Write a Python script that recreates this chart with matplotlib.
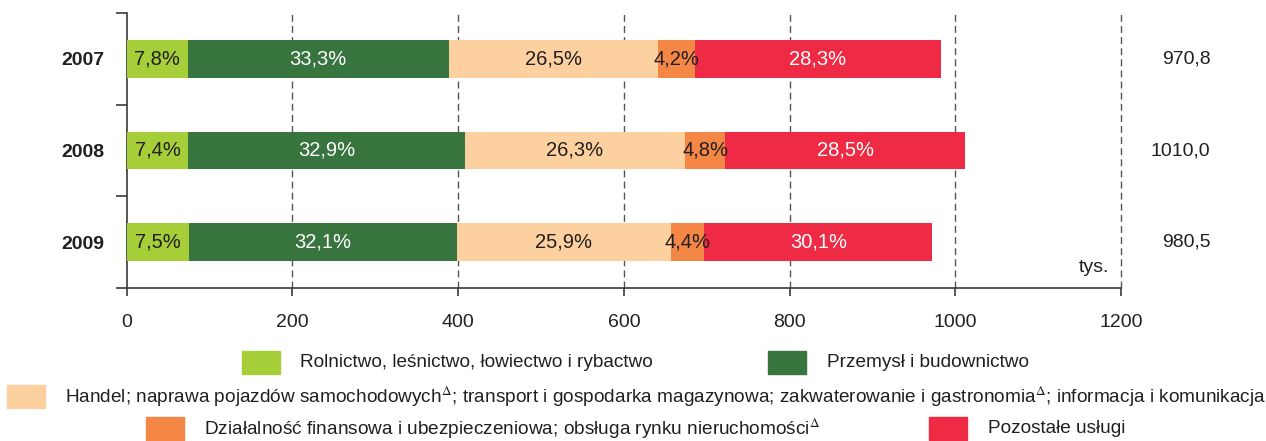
import matplotlib
matplotlib.use("Agg")
import matplotlib.pyplot as plt
from matplotlib.patches import Rectangle
import numpy as np

plt.rcParams["font.family"] = ["Liberation Sans", "DejaVu Sans"]
plt.rcParams["mathtext.fontset"] = "stix"

years = ["2007", "2008", "2009"]
totals = [970.8, 1010.0, 980.5]
sectors = [
    "Rolnictwo, leśnictwo, łowiectwo i rybactwo",
    "Przemysł i budownictwo",
    "Handel; naprawa pojazdów samochodowych$^{\\Delta}$; transport i gospodarka magazynowa; "
    "zakwaterowanie i gastronomia$^{\\Delta}$; informacja i komunikacja",
    "Działalność finansowa i ubezpieczeniowa; obsługa rynku nieruchomości$^{\\Delta}$",
    "Pozostałe usługi",
]
# percentage labels printed on the bars
shares = [
    [7.8, 7.4, 7.5],
    [33.3, 32.9, 32.1],
    [26.5, 26.3, 25.9],
    [4.2, 4.8, 4.4],
    [28.3, 28.5, 30.1],
]
# segment lengths (tys.) as drawn in the picture, rows 2007 / 2008 / 2009
segments = [
    [73.5, 74.5, 75.5],
    [315.0, 333.5, 323.0],
    [253.0, 266.0, 258.5],
    [44.5, 48.5, 40.0],
    [296.5, 289.0, 275.5],
]
colors = ["#a6ce39", "#37743e", "#fdd09f", "#f48646", "#ee2a45"]
label_colors = ["#231f20", "white", "#231f20", "#231f20", "white"]

AX_COLOR = "#3a3a3a"
TXT = "#231f20"
FS = 14

fig = plt.figure(figsize=(12.66, 4.41), dpi=100)
ax = fig.add_axes([126.7 / 1266, 1 - 288 / 441, (1121 - 126.7) / 1266, 275 / 441])

y = np.arange(len(years))
left = np.zeros(len(years))
for seg, vals, col, lcol in zip(segments, shares, colors, label_colors):
    widths = np.array(seg)
    ax.barh(y, widths, left=left, height=0.41, color=col, edgecolor="none", zorder=3)
    for yi, (l, w, v) in enumerate(zip(left, widths, vals)):
        ax.text(l + w / 2, yi, f"{v:.1f}%".replace(".", ","), ha="center", va="center",
                color=lcol, fontsize=14.5, zorder=4)
    left = left + widths

for yi, t in enumerate(totals):
    ax.text(1.09, yi, f"{t:.1f}".replace(".", ","), transform=ax.get_yaxis_transform(),
            ha="right", va="center", fontsize=FS, color=TXT)
ax.text(1167, 2.28, "tys.", ha="center", va="center", fontsize=FS, color=TXT)

ax.set_xlim(0, 1200)
ax.set_ylim(2.5, -0.5)
ax.set_xticks(np.arange(0, 1201, 200))
ax.set_yticks(y)
ax.set_yticklabels(years, fontweight="bold", fontsize=FS, color=TXT)
ax.set_yticks([-0.5, 0.5, 1.5, 2.5], minor=True)
ax.tick_params(axis="y", which="major", length=0, pad=16)
ax.tick_params(axis="y", which="minor", length=8, width=1.2, color=AX_COLOR)
ax.tick_params(axis="x", length=6, width=1.2, color=AX_COLOR, pad=13, labelsize=FS,
               labelcolor=TXT)

for x in np.arange(200, 1201, 200):
    ax.axvline(x, color="#555555", linestyle=(0, (5, 3)), linewidth=1.0, zorder=1,
               clip_on=False)

for s in ["top", "right"]:
    ax.spines[s].set_visible(False)
for s in ["left", "bottom"]:
    ax.spines[s].set_color(AX_COLOR)
    ax.spines[s].set_linewidth(1.2)

# legend drawn by hand to match the centred rows: (patch x, patch top y, text x)
legend_pos = [
    (242, 351, 300),
    (768, 351, 827),
    (7, 385, 65),
    (146, 417, 204),
    (929, 417, 988),
]
for (px, py, tx), name, col in zip(legend_pos, sectors, colors):
    fig.add_artist(Rectangle((px / 1266, 1 - (py + 23) / 441), 38 / 1266, 23 / 441,
                             transform=fig.transFigure, color=col))
    fig.text(tx / 1266, 1 - (py + 11.5) / 441, name, ha="left", va="center",
             fontsize=13.7, color=TXT)

fig.savefig("out.png", dpi=100)
